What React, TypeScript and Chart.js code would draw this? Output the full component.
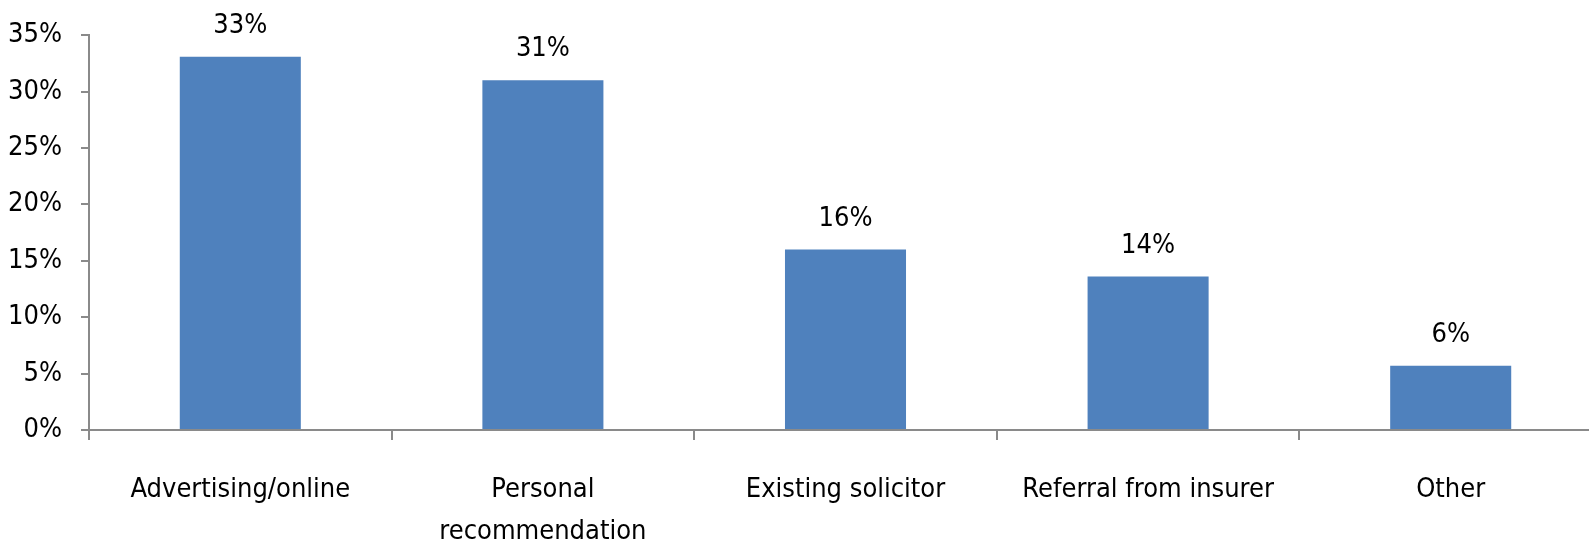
import React, { useEffect, useRef } from "react";
import { Chart, registerables } from "chart.js";

Chart.register(...registerables);

const categories: (string | string[])[] = [
  "Advertising/online",
  ["Personal", "recommendation"],
  "Existing solicitor",
  "Referral from insurer",
  "Other",
];
const values = [33.1, 31.0, 16.0, 13.6, 5.7];
const valueLabels = ["33%", "31%", "16%", "14%", "6%"];
const yTicks = [0, 5, 10, 15, 20, 25, 30, 35];

const FONT = "'Liberation Sans Narrow', 'DejaVu Sans Condensed', 'Open Sans', sans-serif";

const labelPlugin = {
  id: "valueLabels",
  afterDatasetsDraw(chart: any) {
    const ctx = chart.ctx;
    const meta = chart.getDatasetMeta(0);
    ctx.save();
    ctx.font = `27px ${FONT}`;
    ctx.fillStyle = "#000";
    ctx.textAlign = "center";
    ctx.textBaseline = "middle";
    meta.data.forEach((bar: any, i: number) => {
      ctx.fillText(valueLabels[i], bar.x, bar.y - 31);
    });
    ctx.restore();
  },
};

export default function App() {
  const ref = useRef<HTMLCanvasElement>(null);
  useEffect(() => {
    if (!ref.current) return;
    const chart = new Chart(ref.current, {
      type: "bar",
      data: {
        labels: categories,
        datasets: [
          {
            data: values,
            backgroundColor: "#4F81BD",
            borderColor: "#5B8BC5",
            borderWidth: 0,
            barPercentage: 0.4,
            categoryPercentage: 1,
          },
        ],
      },
      options: {
        responsive: false,
        animation: false,
        events: [],
        layout: { padding: { top: 33, right: 0, left: 0, bottom: 0 } },
        plugins: { legend: { display: false }, tooltip: { enabled: false } },
        scales: {
          x: {
            offset: true,
            grid: {
              offset: true,
              drawOnChartArea: false,
              drawTicks: true,
              tickLength: 10,
              color: "#8A8A8A",
              lineWidth: 2,
            },
            border: { color: "#8A8A8A", width: 2 },
            ticks: {
              font: { family: FONT, size: 27, lineHeight: 1.56 },
              color: "#000",
              padding: 29,
              maxRotation: 0,
              autoSkip: false,
            },
            afterFit(scale: any) {
              scale.height = 111;
            },
          },
          y: {
            min: 0,
            max: 35,
            afterBuildTicks(scale: any) {
              scale.ticks = yTicks.map((v) => ({ value: v }));
            },
            grid: {
              drawOnChartArea: false,
              drawTicks: true,
              tickLength: 8,
              color: "#8A8A8A",
              lineWidth: 2,
            },
            border: { color: "#8A8A8A", width: 2 },
            ticks: {
              font: { family: FONT, size: 27 },
              color: "#000",
              padding: 19,
              callback: (v: any) => `${v}%`,
            },
            afterFit(scale: any) {
              scale.width = 89;
            },
          },
        },
      },
      plugins: [labelPlugin],
    });
    return () => chart.destroy();
  }, []);
  return (
    <div
      style={{
        position: "fixed",
        left: 0,
        top: 0,
        width: 1589,
        height: 541,
        overflow: "hidden",
        background: "#fff",
      }}
    >
      <canvas ref={ref} width={1602} height={541} style={{ display: "block" }} />
    </div>
  );
}
